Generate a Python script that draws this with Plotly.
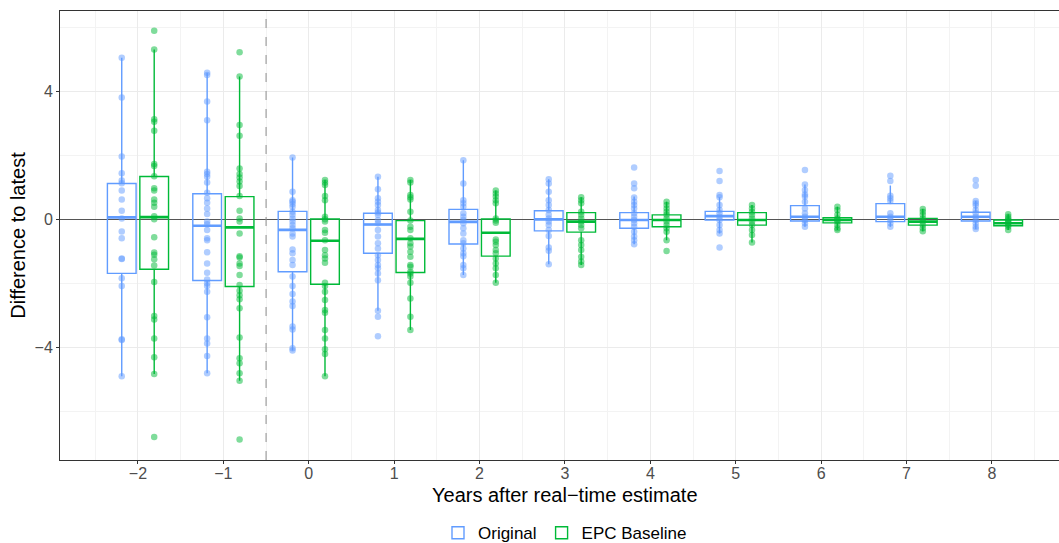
import plotly.graph_objects as go

# ---------------- data ----------------
years = [-2, -1, 0, 1, 2, 3, 4, 5, 6, 7, 8]
year_labels = ["\u22122", "\u22121", "0", "1", "2", "3", "4", "5", "6", "7", "8"]

# box statistics, Original
orig_q1 = [-1.70, -1.92, -1.65, -1.07, -0.78, -0.37, -0.29, -0.03, -0.06, -0.08, -0.06]
orig_med = [0.05, -0.21, -0.34, -0.17, -0.09, -0.01, -0.03, 0.09, 0.07, 0.07, 0.07]
orig_q3 = [1.11, 0.79, 0.24, 0.18, 0.30, 0.26, 0.20, 0.24, 0.42, 0.48, 0.21]
orig_lo = [-4.91, -4.82, -4.11, -2.87, -1.75, -1.41, -0.79, -0.45, -0.24, -0.24, -0.31]
orig_hi = [5.04, 4.57, 1.92, 1.32, 1.84, 1.24, 0.70, 0.68, 1.08, 1.05, 0.56]

# box statistics, EPC Baseline
epc_q1 = [-1.57, -2.11, -2.04, -1.67, -1.16, -0.41, -0.24, -0.19, -0.12, -0.19, -0.21]
epc_med = [0.06, -0.26, -0.68, -0.62, -0.43, -0.08, -0.03, -0.03, -0.03, -0.08, -0.13]
epc_q3 = [1.33, 0.70, 0.00, -0.05, 0.00, 0.20, 0.13, 0.20, 0.04, 0.02, -0.03]
epc_lo = [-4.84, -5.05, -4.91, -3.47, -1.99, -1.44, -0.66, -0.73, -0.34, -0.38, -0.34]
epc_hi = [5.30, 4.45, 1.22, 1.22, 0.89, 0.68, 0.54, 0.44, 0.38, 0.31, 0.15]

# individual points, Original (one list per year)
orig_points = [
    [5.04, 3.80, 1.95, 1.43, 1.20, 1.12, 0.89, 0.61, 0.26, 0.02, -0.39, -0.60, -1.23, -1.25, -1.85, -2.09, -3.76, -3.78, -4.91],
    [4.57, 4.50, 3.67, 3.09, 1.48, 1.41, 1.32, 1.14, 0.82, 0.65, 0.51, 0.33, 0.16, -0.08, -0.16, -0.34, -0.60, -0.66, -1.04, -1.39, -1.68, -1.89, -2.01, -2.09, -2.27, -3.07, -3.73, -3.89, -4.28, -4.82],
    [1.92, 0.85, 0.59, 0.54, 0.47, 0.38, 0.23, 0.13, 0.02, -0.08, -0.19, -0.29, -0.45, -0.55, -0.95, -1.07, -1.28, -1.44, -1.80, -2.09, -2.34, -2.58, -2.72, -3.36, -3.45, -4.04, -4.11],
    [1.32, 0.93, 0.65, 0.54, 0.44, 0.28, 0.20, 0.13, -0.03, -0.13, -0.34, -0.55, -0.76, -0.92, -1.13, -1.28, -1.44, -1.54, -1.70, -1.91, -2.87, -3.05, -3.66],
    [1.84, 1.11, 0.59, 0.49, 0.38, 0.18, 0.07, -0.03, -0.13, -0.29, -0.45, -0.66, -0.76, -0.92, -1.07, -1.16, -1.44, -1.54, -1.75],
    [1.24, 1.11, 0.85, 0.59, 0.44, 0.28, 0.13, 0.02, -0.08, -0.19, -0.34, -0.53, -0.89, -0.99, -1.41],
    [1.61, 1.11, 0.96, 0.67, 0.54, 0.44, 0.33, 0.18, 0.07, -0.03, -0.13, -0.24, -0.40, -0.55, -0.66, -0.79],
    [1.50, 1.19, 0.75, 0.68, 0.44, 0.28, 0.18, 0.07, -0.03, -0.19, -0.34, -0.45, -0.89],
    [1.53, 1.08, 0.91, 0.77, 0.70, 0.54, 0.33, 0.18, 0.07, -0.03, -0.13, -0.24],
    [1.35, 1.19, 0.73, 0.65, 0.56, 0.18, 0.07, -0.03, -0.13, -0.24],
    [1.22, 1.04, 0.56, 0.49, 0.42, 0.28, 0.18, 0.07, -0.03, -0.13, -0.24, -0.31],
]

# individual points, EPC Baseline (one list per year)
epc_points = [
    [5.88, 5.30, 3.12, 3.04, 2.76, 1.72, 1.66, 1.34, 0.96, 0.89, 0.61, 0.51, 0.38, 0.09, -0.01, -0.57, -1.05, -1.12, -1.26, -1.45, -1.97, -3.03, -3.14, -3.73, -4.32, -4.84, -6.81],
    [5.21, 4.45, 2.94, 2.60, 1.58, 1.41, 1.30, 1.17, 1.03, 0.72, 0.26, 0.02, -0.08, -0.45, -1.16, -1.20, -1.39, -1.47, -1.75, -2.06, -2.24, -2.38, -2.51, -2.79, -3.70, -4.35, -4.51, -4.82, -5.05, -6.89],
    [1.22, 1.14, 1.06, 0.72, 0.59, 0.07, -0.01, -0.08, -0.34, -0.43, -0.66, -0.97, -1.13, -1.23, -1.37, -1.99, -2.09, -2.27, -2.53, -2.84, -2.93, -3.47, -3.73, -4.07, -4.22, -4.91],
    [1.22, 1.14, 0.75, 0.68, 0.61, 0.23, -0.05, -0.24, -0.34, -0.60, -0.76, -0.86, -1.02, -1.18, -1.44, -1.49, -1.65, -1.70, -1.80, -1.99, -2.48, -3.05, -3.47],
    [0.89, 0.80, 0.70, 0.59, 0.49, 0.02, -0.05, -0.12, -0.64, -0.71, -0.81, -0.97, -1.07, -1.23, -1.39, -1.54, -1.75, -1.99],
    [0.68, 0.59, 0.49, 0.23, 0.13, 0.02, -0.08, -0.19, -0.29, -0.66, -0.81, -0.97, -1.18, -1.33, -1.44],
    [0.54, 0.44, 0.33, 0.23, 0.13, 0.02, -0.08, -0.19, -0.29, -0.40, -0.66, -1.00],
    [0.44, 0.33, 0.23, 0.13, 0.02, -0.08, -0.19, -0.34, -0.50, -0.73],
    [0.38, 0.28, 0.13, 0.02, -0.03, -0.08, -0.19, -0.29, -0.34],
    [0.31, 0.23, 0.13, 0.02, -0.08, -0.19, -0.29, -0.38],
    [0.15, 0.07, 0.02, -0.03, -0.08, -0.13, -0.19, -0.24, -0.34],
]

series_names = ["Original", "EPC Baseline"]
BLUE = "#619CFF"
GREEN = "#00BA38"

# ---------------- figure ----------------
fig = go.Figure()

def add_series(name, color, group, q1, med, q3, lo, hi):
    fig.add_trace(go.Box(
        name=name, x=years, q1=q1, median=med, q3=q3,
        lowerfence=lo, upperfence=hi,
        offsetgroup=group, boxpoints=False,
        line=dict(color=color, width=1.4), fillcolor="rgba(255,255,255,0)",
        whiskerwidth=0, hoverinfo="skip", showlegend=True,
    ))

def add_median(name, color, group, med):
    # thicker median bar (ggplot fatten), drawn as a zero-height box at the median
    fig.add_trace(go.Box(
        name=name, x=years, q1=med, median=med, q3=med,
        lowerfence=med, upperfence=med,
        offsetgroup=group, boxpoints=False,
        line=dict(color=color, width=2.6), fillcolor="rgba(255,255,255,0)",
        whiskerwidth=0, hoverinfo="skip", showlegend=False,
    ))

def add_points(name, color, group, points):
    xs, ys = [], []
    for yr, vals in zip(years, points):
        xs += [yr] * len(vals)
        ys += vals
    fig.add_trace(go.Box(
        name=name, x=xs, y=ys, offsetgroup=group,
        boxpoints="all", jitter=0, pointpos=0,
        line=dict(color="rgba(0,0,0,0)", width=0), fillcolor="rgba(0,0,0,0)",
        marker=dict(color=color, size=6.5, opacity=0.5),
        whiskerwidth=0, hoverinfo="skip", showlegend=False,
    ))

add_series(series_names[0], BLUE, "o", orig_q1, orig_med, orig_q3, orig_lo, orig_hi)
add_series(series_names[1], GREEN, "e", epc_q1, epc_med, epc_q3, epc_lo, epc_hi)
add_median(series_names[0], BLUE, "o", orig_med)
add_median(series_names[1], GREEN, "e", epc_med)
add_points(series_names[0], BLUE, "o", orig_points)
add_points(series_names[1], GREEN, "e", epc_points)

half_years = [y + 0.5 for y in [-3] + years]

fig.update_layout(
    width=1059, height=543,
    margin=dict(l=60, r=0, t=11, b=83, autoexpand=False),
    plot_bgcolor="white", paper_bgcolor="white",
    boxmode="group", boxgap=0.24, boxgroupgap=0.116,
    font=dict(family="Liberation Sans, Arial, sans-serif", size=16, color="#4D4D4D"),
    legend=dict(orientation="h", xref="paper", yref="paper",
                x=0.5055, xanchor="center", y=-0.163, yanchor="middle",
                font=dict(size=17, color="black"), bgcolor="rgba(0,0,0,0)",
                itemwidth=30),
    shapes=[dict(type="line", xref="x", yref="paper", x0=-0.5, x1=-0.5, y0=0, y1=1,
                 line=dict(color="#8C8C8C", width=1, dash="dash"), layer="above")],
    annotations=[dict(text="Years after real\u2212time estimate", xref="paper", yref="paper",
                      x=0.5055, y=-0.078, xanchor="center", yanchor="middle",
                      showarrow=False, font=dict(size=20, color="black"))],
)

fig.update_xaxes(
    range=[-2.913, 8.785], tickmode="array", tickvals=years, ticktext=year_labels,
    ticks="outside", ticklen=3, tickcolor="#333333", tickfont=dict(size=16, color="#4D4D4D"),
    ticklabelstandoff=-4,
    showline=True, linecolor="#333333", linewidth=1, mirror=True,
    showgrid=True, gridcolor="#EBEBEB", gridwidth=1, zeroline=False,
    minor=dict(tickvals=half_years, showgrid=True, gridcolor="#F3F3F3", ticklen=0),
)
fig.update_yaxes(
    range=[-7.53, 6.5], tickmode="array", tickvals=[-4, 0, 4], ticktext=["\u22124", "0", "4"],
    ticks="outside", ticklen=3, tickcolor="#333333", tickfont=dict(size=16, color="#4D4D4D"),
    showline=True, linecolor="#333333", linewidth=1,
    showgrid=True, gridcolor="#EBEBEB", gridwidth=1,
    zeroline=True, zerolinecolor="#555555", zerolinewidth=1,
    minor=dict(tickvals=[-6, -2, 2, 6], showgrid=True, gridcolor="#F3F3F3", ticklen=0),
    title=dict(text="Difference to latest", font=dict(size=20, color="black"), standoff=3),
)

fig.write_html("out.html")
